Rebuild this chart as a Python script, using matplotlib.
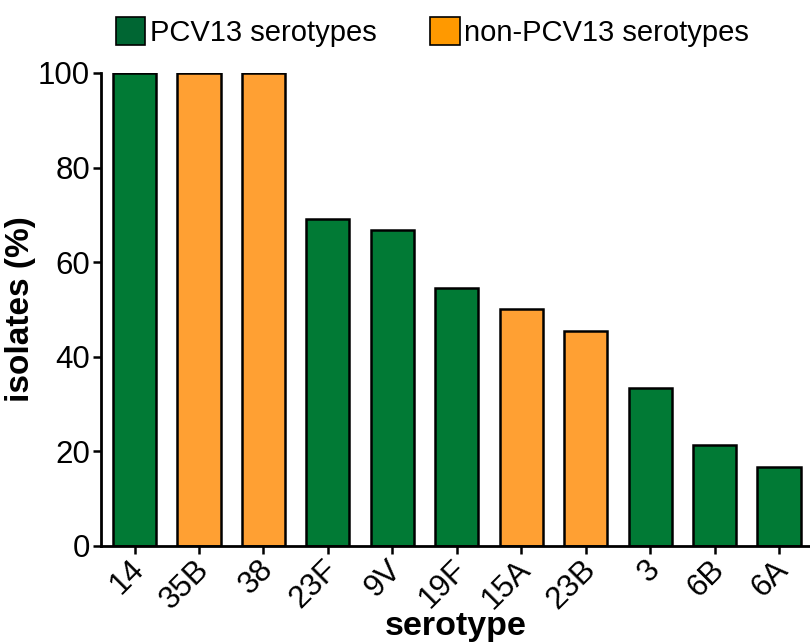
import numpy as np
import matplotlib
matplotlib.use("Agg")
import matplotlib.pyplot as plt
import matplotlib.transforms as mtransforms
from matplotlib.patches import Patch

plt.rcParams['font.family'] = ['Liberation Sans', 'DejaVu Sans']

# data
serotypes = ["14", "35B", "38", "23F", "9V", "19F", "15A", "23B", "3", "6B", "6A"]
isolates_pct = [100, 100, 100, 69.2, 66.7, 54.5, 50.0, 45.5, 33.3, 21.4, 16.7]
in_pcv13 = [True, False, False, True, True, True, False, False, True, True, True]

green = "#017A35"
orange = "#FFA033"
colors = [green if p else orange for p in in_pcv13]

fig = plt.figure(figsize=(8.1, 6.42), dpi=100)
ax = fig.add_axes([0.1247, 0.15, 0.8753, 0.7363])

x = np.arange(len(serotypes))
ax.bar(x, isolates_pct, width=0.67, color=colors, edgecolor="black", linewidth=1.8)

ax.set_xlim(-0.52, 10.48)
ax.set_ylim(0, 100)
ax.set_yticks([0, 20, 40, 60, 80, 100])
ax.set_xticks(x)
ax.set_xticklabels(serotypes, rotation=45, ha="right", va="center", rotation_mode="anchor")

ax.spines["top"].set_visible(False)
ax.spines["right"].set_visible(False)
ax.spines["left"].set_linewidth(2)
ax.spines["bottom"].set_linewidth(2)
ax.tick_params(axis="both", labelsize=22.5, width=1.8, length=6, colors="black")
ax.tick_params(axis="y", pad=2)
ax.tick_params(axis="x", pad=8)

# nudge the slanted labels a little to the right
shift = mtransforms.ScaledTranslation(0.05, 0, fig.dpi_scale_trans)
for lab in ax.get_xticklabels():
    lab.set_transform(lab.get_transform() + shift)

ax.set_ylabel("isolates (%)", fontsize=24, fontweight="bold")
ax.yaxis.set_label_coords(-0.092, 0.5)
ax.set_xlabel("serotype", fontsize=24.5, fontweight="bold")
ax.xaxis.set_label_coords(0.5, -0.138)

handles = [Patch(facecolor="#006633", edgecolor="black", linewidth=1.2),
           Patch(facecolor="#FF9900", edgecolor="black", linewidth=1.2)]
fig.legend(handles, ["PCV13 serotypes", "non-PCV13 serotypes"], loc="center",
           bbox_to_anchor=(0.534, 0.95), ncol=2, frameon=False, fontsize=21,
           handlelength=1.0, handleheight=1.1, handletextpad=0.15, columnspacing=1.85)

fig.savefig("out.png", dpi=100)
